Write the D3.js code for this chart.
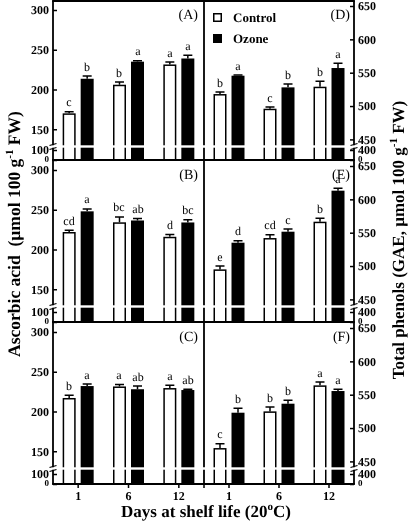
<!DOCTYPE html>
<html><head><meta charset="utf-8">
<script src="https://cdn.jsdelivr.net/npm/d3@7"></script>
<style>body{margin:0;background:#fff}svg{display:block;will-change:transform}svg text{-webkit-font-smoothing:antialiased;text-rendering:geometricPrecision}</style>
</head><body><svg id="chart" width="408" height="523"></svg>
<script>
// ---- data ----
const days = ["1", "6", "12"];
const series = ["Control", "Ozone"];

// Ascorbic acid (left column)
const aControl = [170, 206, 231.5], aControlErr = [2, 3.3, 3];
const aOzone = [213.5, 235, 239], aOzoneErr = [3.4, 1.3, 4];
const aLetC = ["c", "b", "a"], aLetO = ["b", "a", "a"];

const bControl = [222, 234.2, 216], bControlErr = [2.2, 6.8, 3];
const bOzone = [248, 236.5, 234], bOzoneErr = [3, 2.5, 3.5];
const bLetC = ["cd", "bc", "d"], bLetO = ["a", "ab", "bc"];

const cControl = [217, 231.5, 229.5], cControlErr = [3.5, 2.5, 3.5];
const cOzone = [232, 228, 227], cOzoneErr = [2.5, 4, 1];
const cLetC = ["b", "a", "a"], cLetO = ["a", "ab", "ab"];

// Total phenols (right column)
const dControl = [518, 496, 529], dControlErr = [3, 2.5, 8];
const dOzone = [545.5, 528, 557], dOzoneErr = [1, 5, 7];
const dLetC = ["b", "c", "b"], dLetO = ["a", "b", "a"];

const eControl = [495, 542, 566.5], eControlErr = [5, 5, 5];
const eOzone = [535, 551.5, 613], eOzoneErr = [3, 4, 3.5];
const eLetC = ["e", "cd", "b"], eLetO = ["d", "c", "a"];

const fControl = [470, 525, 564], fControlErr = [6.5, 6.5, 5];
const fOzone = [523, 536.5, 555.5], fOzoneErr = [6.5, 5, 2.5];
const fLetC = ["c", "b", "a"], fLetO = ["b", "b", "a"];

const leftUpperTicks = [150, 200, 250, 300], leftLowerTicks = [0, 100];
const rightUpperTicks = [450, 500, 550, 600, 650], rightLowerTicks = [0, 400];

const panels = [
  {label: "(A)", side: "left", row: 0, c: aControl, ce: aControlErr, o: aOzone, oe: aOzoneErr, lc: aLetC, lo: aLetO},
  {label: "(B)", side: "left", row: 1, c: bControl, ce: bControlErr, o: bOzone, oe: bOzoneErr, lc: bLetC, lo: bLetO},
  {label: "(C)", side: "left", row: 2, c: cControl, ce: cControlErr, o: cOzone, oe: cOzoneErr, lc: cLetC, lo: cLetO},
  {label: "(D)", side: "right", row: 0, c: dControl, ce: dControlErr, o: dOzone, oe: dOzoneErr, lc: dLetC, lo: dLetO},
  {label: "(E)", side: "right", row: 1, c: eControl, ce: eControlErr, o: eOzone, oe: eOzoneErr, lc: eLetC, lo: eLetO},
  {label: "(F)", side: "right", row: 2, c: fControl, ce: fControlErr, o: fOzone, oe: fOzoneErr, lc: fLetC, lo: fLetO},
];

// ---- layout ----
const svg = d3.select("#chart");
const FONT = "'Liberation Serif', 'Times New Roman', serif";
const xL0 = 53, xMid = 204, xR1 = 354;
const rowTop = [0, 160, 322], rowBottom = [160, 322, 484];

const xLeft = d3.scaleBand().domain(days).range([xL0, xMid]).paddingInner(0).paddingOuter(0);
const xRight = d3.scaleBand().domain(days).range([xMid, xR1]).paddingInner(0).paddingOuter(0);
const sub = d3.scaleBand().domain(series).range([-15.5, 15.5]).paddingInner(0.278);

const gBars = svg.append("g");
const gBand = svg.append("g");
const gAxes = svg.append("g");

panels.forEach(p => {
  const top = rowTop[p.row], bottom = rowBottom[p.row];
  const x = p.side === "left" ? xLeft : xRight;
  let upper, lower, upTicks, lowTicks;
  if (p.side === "left") {
    upper = d3.scaleLinear().domain([150, 300]).range([top + 10 + 150 * 0.795, top + 10]);
    lower = d3.scaleLinear().domain([0, 100]).range([bottom, bottom - 10]);
    upTicks = leftUpperTicks; lowTicks = leftLowerTicks;
  } else {
    upper = d3.scaleLinear().domain([450, 650]).range([top + 6 + 200 * 0.667, top + 6]);
    lower = d3.scaleLinear().domain([0, 400]).range([bottom, bottom - 10]);
    upTicks = rightUpperTicks; lowTicks = rightLowerTicks;
  }
  const bw = sub.bandwidth();
  const rows = [];
  days.forEach((d, i) => {
    const cx = x(d) + x.bandwidth() / 2;
    rows.push({s: "Control", cx, v: p.c[i], e: p.ce[i], l: p.lc[i]});
    rows.push({s: "Ozone", cx, v: p.o[i], e: p.oe[i], l: p.lo[i]});
  });
  const g = gBars.append("g");
  g.selectAll("rect.bar").data(rows).enter().append("rect")
    .attr("x", r => r.cx + sub(r.s) + (r.s === "Control" ? 0.75 : 0))
    .attr("width", r => r.s === "Control" ? bw - 1.5 : bw)
    .attr("y", r => upper(r.v) + (r.s === "Control" ? 0.75 : 0))
    .attr("height", r => bottom - upper(r.v) - (r.s === "Control" ? 0.75 : 0))
    .attr("fill", r => r.s === "Control" ? "#fff" : "#000")
    .attr("stroke", r => r.s === "Control" ? "#000" : "none")
    .attr("stroke-width", 1.5);
  g.selectAll("path.err").data(rows).enter().append("path")
    .attr("d", r => {
      const xc = r.cx + sub(r.s) + bw / 2;
      const y0 = upper(r.v), y1 = upper(r.v + r.e);
      return `M${xc},${y0}V${y1}M${xc - 4.5},${y1}H${xc + 4.5}`;
    })
    .attr("stroke", "#000").attr("stroke-width", 1.5).attr("fill", "none");
  g.selectAll("text.let").data(rows).enter().append("text")
    .attr("x", r => Math.round(r.cx + sub(r.s) + bw / 2))
    .attr("y", r => Math.round(upper(r.v + r.e) - 5.5))
    .attr("text-anchor", "middle")
    .attr("fill", "#000")
    .style("font-family", FONT).style("font-size", "12px")
    .text(r => r.l);
  gBand.append("rect").attr("x", x.range()[0] + 1).attr("width", x.range()[1] - x.range()[0])
    .attr("y", top + 145.3).attr("height", 2.4).attr("fill", "#fff");
  const axX = p.side === "left" ? xL0 : xR1;
  const mk = s => (p.side === "left" ? d3.axisLeft(s) : d3.axisRight(s));
  const styleAxis = (ag, fs) => {
    ag.select(".domain").remove();
    ag.selectAll(".tick line").attr("stroke", "#000").attr("stroke-width", 1.5);
    ag.selectAll("text").style("font-family", FONT).style("font-size", fs).style("font-weight", "bold").attr("fill", "#000");
  };
  const au = gAxes.append("g").attr("transform", `translate(${axX},0)`)
    .call(mk(upper).tickValues(upTicks).tickSizeInner(-4).tickSizeOuter(0).tickPadding(4));
  styleAxis(au, "12px");
  const al = gAxes.append("g").attr("transform", `translate(${axX},0)`)
    .call(mk(lower).tickValues(lowTicks).tickSizeInner(-4).tickSizeOuter(0).tickPadding(4));
  styleAxis(al, "12px");
  al.selectAll(".tick").filter(v => v === 0).select("text").attr("y", -1.5).style("font-size", "9px");
  al.selectAll(".tick").filter(v => v !== 0).select("text").attr("y", -0.5);
  const by = top + 146.5;
  [-2, 2].forEach(off => {
    gAxes.append("line").attr("x1", axX - 3.5).attr("x2", axX + 3.5)
      .attr("y1", by + off + 1).attr("y2", by + off - 1)
      .attr("stroke", "#000").attr("stroke-width", 1.2);
  });
  svg.append("text")
    .attr("x", p.side === "left" ? 198 : 350)
    .attr("y", top + 19)
    .attr("text-anchor", "end")
    .attr("fill", "#000")
    .style("font-family", FONT).style("font-size", "14px")
    .text(p.label);
});

// frame
const frame = svg.append("g").attr("stroke", "#000").attr("stroke-width", 1.8).attr("fill", "none");
[xL0, xMid, xR1].forEach(xx => {
  rowTop.forEach((t, i) => {
    const b = rowBottom[i];
    const y0 = i === 0 ? 1 : t;
    frame.append("line").attr("x1", xx).attr("x2", xx).attr("y1", y0).attr("y2", t + 145.3);
    frame.append("line").attr("x1", xx).attr("x2", xx).attr("y1", t + 147.7).attr("y2", b);
  });
});
[1, 160, 322, 484].forEach(yy => {
  frame.append("line").attr("x1", xL0 - 0.9).attr("x2", xR1 + 0.9).attr("y1", yy).attr("y2", yy);
});

// x axes
[xLeft, xRight].forEach(x => {
  const ax = svg.append("g").attr("transform", "translate(0,484)")
    .call(d3.axisBottom(x).tickSizeInner(4).tickSizeOuter(0).tickPadding(3));
  ax.select(".domain").remove();
  ax.selectAll(".tick line").attr("stroke", "#000").attr("stroke-width", 1.5);
  ax.selectAll("text").style("font-family", FONT).style("font-size", "12px").style("font-weight", "bold").attr("fill", "#000");
});
svg.append("line").attr("x1", xMid).attr("x2", xMid).attr("y1", 484).attr("y2", 488).attr("stroke", "#000").attr("stroke-width", 1.5);

// legend
const leg = svg.append("g").attr("transform", "translate(213,13)");
series.forEach((s, i) => {
  leg.append("rect").attr("x", 0.75).attr("y", i * 21 + 0.75).attr("width", 7.5).attr("height", 7.5)
    .attr("fill", s === "Control" ? "#fff" : "#000").attr("stroke", "#000").attr("stroke-width", 1.5);
  leg.append("text").attr("x", 20).attr("y", i * 21 + 8.5).attr("fill", "#000")
    .style("font-family", FONT).style("font-size", "13px").style("font-weight", "bold").text(s);
});

// axis titles
const lt = svg.append("text").attr("transform", "translate(20,234) rotate(-90)")
  .attr("text-anchor", "middle").attr("fill", "#000")
  .style("font-family", FONT).style("font-size", "17.5px").style("font-weight", "bold");
lt.append("tspan").text("Ascorbic acid\u00a0\u00a0(\u00b5mol 100 g");
lt.append("tspan").attr("dy", -7).style("font-size", "11px").text("-1");
lt.append("tspan").attr("dy", 7).text(" FW)");

const rt = svg.append("text").attr("transform", "translate(404,240) rotate(-90)")
  .attr("text-anchor", "middle").attr("fill", "#000")
  .style("font-family", FONT).style("font-size", "17px").style("font-weight", "bold");
rt.append("tspan").text("Total phenols (GAE, \u00b5mol 100 g");
rt.append("tspan").attr("dy", -7).style("font-size", "11px").text("-1");
rt.append("tspan").attr("dy", 7).text(" FW)");

const xt = svg.append("text").attr("x", 206).attr("y", 517)
  .attr("text-anchor", "middle").attr("fill", "#000")
  .style("font-family", FONT).style("font-size", "17px").style("font-weight", "bold");
xt.append("tspan").text("Days at shelf life (20");
xt.append("tspan").attr("dy", -7).style("font-size", "11px").text("o");
xt.append("tspan").attr("dy", 7).text("C)");
</script></body></html>
